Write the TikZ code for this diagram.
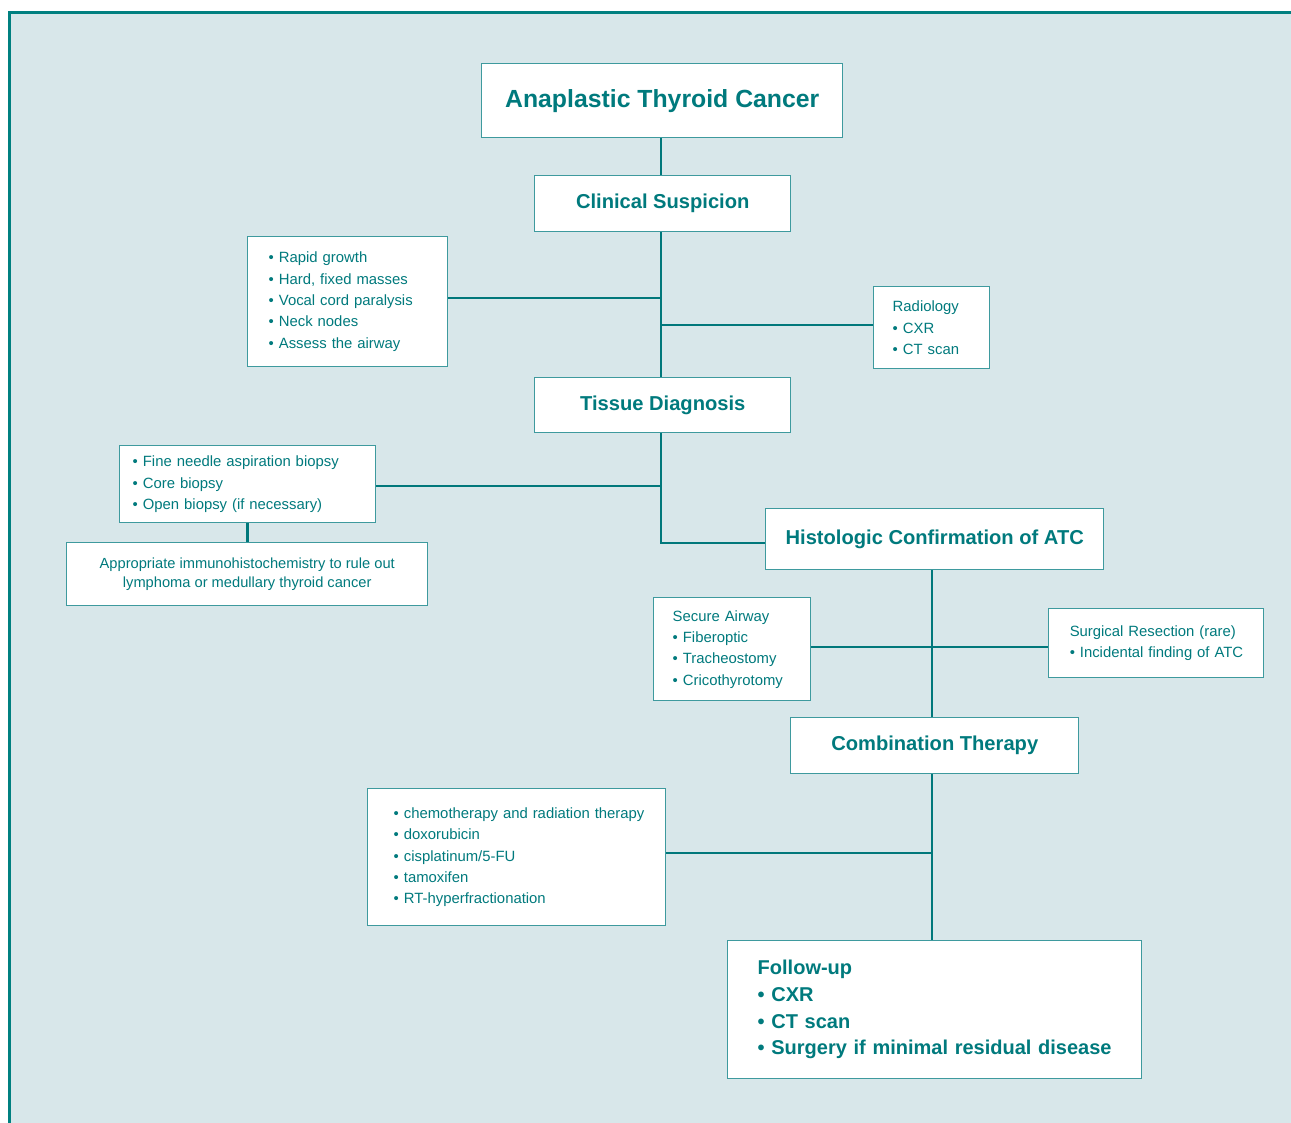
\documentclass[tikz,border=0pt]{standalone}
\usepackage{fontspec}
\setmainfont{Liberation Sans}
\definecolor{txt}{RGB}{0,122,125}
\definecolor{boxc}{RGB}{62,154,158}
\definecolor{conc}{RGB}{0,120,123}
\definecolor{bgc}{RGB}{216,231,234}
\definecolor{framec}{RGB}{0,128,128}
\newcommand\lne[1]{\mbox{#1}}
\begin{document}
\begin{tikzpicture}[x=0.75pt,y=-0.75pt,
  box/.style={draw=boxc, fill=white, line width=1.1pt, anchor=north west, text=txt, inner sep=0pt},
  head/.style={box, font=\fontsize{15.1}{19}\selectfont\bfseries, align=center},
  listbox/.style={box, font=\fontsize{11.15}{16}\selectfont, align=left},
  conn/.style={draw=conc, line width=1.9pt}]
\useasboundingbox (0,0) rectangle (1291,1122);
\draw[line width=2.25pt, draw=framec, fill=bgc] (9.5,12.5) rectangle (1320,1150);

\node[head, font=\fontsize{18.6}{22}\selectfont\bfseries, minimum width=270.75pt, minimum height=55.5pt] (atc) at (481,63) {Anaplastic Thyroid Cancer};
\node[head, minimum width=192pt, minimum height=42pt] (clin) at (534,175) {Clinical Suspicion};
\node[listbox, minimum width=150pt, minimum height=97.5pt, inner xsep=15.75pt, text width=118.5pt] (symp) at (247,236)
  {\lne{• Rapid growth}\\\lne{• Hard, fixed masses}\\\lne{• Vocal cord paralysis}\\\lne{• Neck nodes}\\\lne{• Assess the airway}};
\node[listbox, minimum width=87pt, minimum height=61.5pt, inner xsep=14.25pt, text width=58.5pt] (radio) at (873,286)
  {\lne{Radiology}\\\lne{• CXR}\\\lne{• CT scan}};
\node[head, minimum width=192pt, minimum height=41.25pt] (tissue) at (534,377) {Tissue Diagnosis};
\node[listbox, minimum width=192pt, minimum height=57.75pt, inner xsep=9.75pt, text width=172.5pt] (biop) at (119,445)
  {\lne{• Fine needle aspiration biopsy}\\\lne{• Core biopsy}\\\lne{• Open biopsy (if necessary)}};
\node[box, font=\fontsize{11}{14.25}\selectfont, align=center, minimum width=270.75pt, minimum height=47.25pt] (immuno) at (66,542)
  {Appropriate immunohistochemistry to rule out\\lymphoma or medullary thyroid cancer};
\node[head, minimum width=253.5pt, minimum height=45.75pt] (histo) at (765,508) {Histologic Confirmation of ATC};
\node[listbox, minimum width=117.75pt, minimum height=77.25pt, inner xsep=14.25pt, text width=89.25pt] (airway) at (653,597)
  {\lne{Secure Airway}\\\lne{• Fiberoptic}\\\lne{• Tracheostomy}\\\lne{• Cricothyrotomy}};
\node[listbox, minimum width=161.25pt, minimum height=51.75pt, inner xsep=15.75pt, text width=129.75pt] (surg) at (1048,608)
  {\lne{Surgical Resection (rare)}\\\lne{• Incidental finding of ATC}};
\node[head, minimum width=216pt, minimum height=42pt] (combo) at (790,717) {Combination Therapy};
\node[listbox, minimum width=223.5pt, minimum height=102.75pt, inner xsep=19.5pt, text width=184.5pt] (chemo) at (367,788)
  {\lne{• chemotherapy and radiation therapy}\\\lne{• doxorubicin}\\\lne{• cisplatinum/5-FU}\\\lne{• tamoxifen}\\\lne{• RT-hyperfractionation}};
\node[box, font=\fontsize{15}{20}\selectfont\bfseries, align=left, minimum width=310.5pt, minimum height=103.5pt, inner xsep=22.5pt, text width=265.5pt] (follow) at (727,940)
  {\lne{Follow-up}\\\lne{• CXR}\\\lne{• CT scan}\\\lne{• Surgery if minimal residual disease}};

\coordinate (j1) at (661,298);
\coordinate (j2) at (661,325);
\coordinate (j3) at (661,486);
\coordinate (j4) at (661,543);
\coordinate (j5) at (932,647);
\coordinate (j6) at (932,853);

\draw[conn] (atc.south -| j1) -- (clin.north -| j1);
\draw[conn] (clin.south -| j1) -- (tissue.north -| j1);
\draw[conn] (symp.east |- j1) -- (j1);
\draw[conn] (j2) -- (radio.west |- j2);
\draw[conn] (biop.east |- j3) -- (j3);
\draw[conn] (tissue.south -| j4) -- (j4) -- (histo.west |- j4);
\draw[conn] (biop.south) -- (biop.south |- immuno.north);
\draw[conn] (histo.south -| j5) -- (combo.north -| j5);
\draw[conn] (airway.east |- j5) -- (surg.west |- j5);
\draw[conn] (combo.south -| j6) -- (follow.north -| j6);
\draw[conn] (chemo.east |- j6) -- (j6);
\end{tikzpicture}
\end{document}
